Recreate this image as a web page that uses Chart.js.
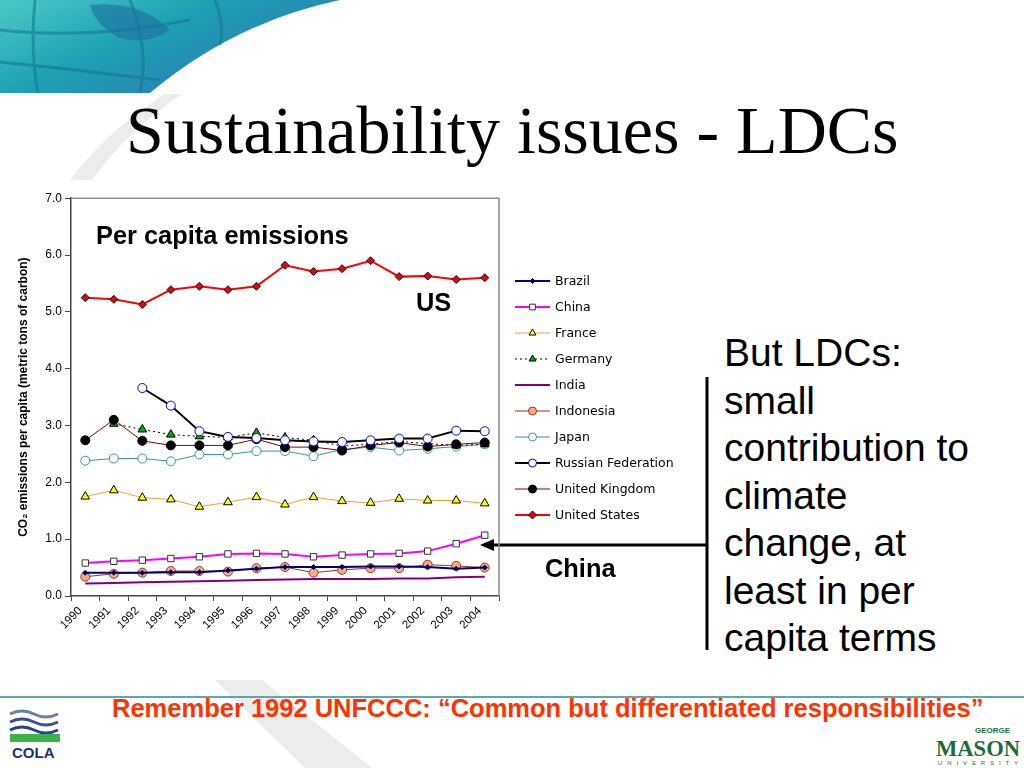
<!DOCTYPE html>
<html>
<head>
<meta charset="utf-8">
<script src="https://cdn.jsdelivr.net/npm/chart.js@4.4.0/dist/chart.umd.min.js"></script>
<style>
  html, body { margin: 0; padding: 0; background: #fff; }
  body { width: 1024px; height: 768px; position: relative; overflow: hidden; font-family: "Liberation Sans", Arial, sans-serif; }
  .abs { position: absolute; }
  #title { left: 126px; top: 91px; font-family: "Liberation Serif", "Times New Roman", serif; font-size: 68px; white-space: nowrap; color: #000; }
  #chartBox { left: 0; top: 188px; width: 700px; height: 462px; }
  .note { font-weight: bold; font-size: 25.4px; color: #000; white-space: nowrap; }
  #side { left: 724px; top: 329px; font-size: 39px; line-height: 47.5px; color: #000; }
  #remember { left: 112px; top: 694px; font-weight: bold; font-size: 25.5px; color: #ff3300; white-space: nowrap; }
</style>
</head>
<body>

<svg class="abs" width="1024" height="768" style="left:0;top:0">
  <defs>
    <linearGradient id="globe" x1="0" y1="0" x2="1" y2="0.6">
      <stop offset="0" stop-color="#4cc8c8"/>
      <stop offset="0.45" stop-color="#1fa2b4"/>
      <stop offset="1" stop-color="#2a78b4"/>
    </linearGradient>
  </defs>
  <path d="M0,0 L340,0 Q235,22 150,93 L0,93 Z" fill="url(#globe)"/>
  <g stroke="#137c8c" stroke-width="3" fill="none" opacity="0.6">
    <path d="M35,0 Q30,50 38,93"/>
    <path d="M0,30 Q90,40 190,20"/>
    <path d="M0,62 Q80,70 160,80"/>
    <path d="M130,0 Q150,50 140,93"/>
    <path d="M215,0 Q225,25 220,45"/>
  </g>
  <path d="M90,5 Q140,0 170,30 Q150,45 120,38 Q95,25 90,5 Z" fill="#1d6fa0" opacity="0.6"/>
  <path d="M165,94 Q110,128 70,180 L92,180 Q128,130 182,94 Z" fill="#ececec"/>
  <path d="M215,680 L262,680 L372,768 L305,768 Z" fill="#ececec"/>
  <line x1="0" y1="697" x2="1024" y2="697" stroke="#5aa9ae" stroke-width="2"/>
  <!-- callout to China -->
  <line x1="707" y1="377" x2="707" y2="650" stroke="#000" stroke-width="3"/>
  <line x1="707" y1="545" x2="492" y2="545" stroke="#000" stroke-width="3"/>
  <path d="M480,545 L494,539 L494,551 Z" fill="#000"/>
  <!-- COLA logo -->
  <g fill="none" stroke-width="3">
    <path d="M10,714 Q22,708 34,714 T58,714" stroke="#6d7fa8"/>
    <path d="M10,722 Q22,716 34,722 T58,722" stroke="#3a4fa0"/>
    <path d="M10,730 Q22,724 34,730 T58,730" stroke="#2a3f98"/>
  </g>
  <rect x="10" y="734" width="50" height="8" fill="#3cb24a"/>
  <text x="12" y="758" font-family="Liberation Sans" font-weight="bold" font-size="15" fill="#1c2f7a">COLA</text>
  <!-- George Mason logo -->
  <text x="975" y="733" font-family="Liberation Sans" font-weight="bold" font-size="8" fill="#1e6b3a">GEORGE</text>
  <text x="936" y="756" font-family="Liberation Serif" font-weight="bold" font-size="24" fill="#1e6b3a" textLength="84" lengthAdjust="spacingAndGlyphs">MASON</text>
  <text x="938" y="765" font-family="Liberation Sans" font-size="6" fill="#1e6b3a" textLength="80">UNIVERSITY</text>
</svg>

<div id="title" class="abs">Sustainability issues - LDCs</div>

<div id="chartBox" class="abs"><canvas id="co2Chart" width="700" height="462"></canvas></div>

<div class="abs note" style="left:96px;top:221px;">Per capita emissions</div>
<div class="abs note" style="left:416px;top:288px;">US</div>
<div class="abs note" style="left:545px;top:554px;">China</div>

<div id="side" class="abs">But LDCs:<br>small<br>contribution to<br>climate<br>change, at<br>least in per<br>capita terms</div>

<div id="remember" class="abs">Remember 1992 UNFCCC: “Common but differentiated responsibilities”</div>

<script>
// Años (categorías)
const years = ['1990', '1991', '1992', '1993', '1994', '1995', '1996', '1997', '1998', '1999', '2000', '2001', '2002', '2003', '2004'];

// Emisiones per cápita (toneladas métricas de carbono)
const brazil    = [0.41, 0.41, 0.41, 0.42, 0.42, 0.45, 0.48, 0.51, 0.51, 0.51, 0.52, 0.52, 0.51, 0.48, 0.50];
const china     = [0.58, 0.61, 0.63, 0.66, 0.69, 0.74, 0.75, 0.74, 0.69, 0.72, 0.74, 0.75, 0.79, 0.92, 1.07];
const france    = [1.75, 1.86, 1.73, 1.70, 1.57, 1.65, 1.74, 1.61, 1.74, 1.67, 1.64, 1.71, 1.68, 1.68, 1.63];
const germany   = [null, 3.03, 2.93, 2.84, 2.81, 2.79, 2.87, 2.79, 2.74, 2.64, 2.67, 2.72, 2.68, 2.65, 2.67];
const india     = [0.22, 0.23, 0.24, 0.25, 0.26, 0.27, 0.28, 0.29, 0.30, 0.30, 0.30, 0.31, 0.31, 0.33, 0.34];
const indonesia = [0.34, 0.39, 0.41, 0.44, 0.44, 0.43, 0.49, 0.51, 0.41, 0.46, 0.49, 0.49, 0.55, 0.53, 0.50];
const japan     = [2.38, 2.42, 2.42, 2.37, 2.49, 2.49, 2.55, 2.55, 2.46, 2.58, 2.62, 2.56, 2.59, 2.63, 2.67];
const russia    = [null, null, 3.66, 3.35, 2.90, 2.80, 2.78, 2.74, 2.72, 2.71, 2.74, 2.77, 2.77, 2.91, 2.90];
const uk        = [2.74, 3.10, 2.73, 2.65, 2.65, 2.65, 2.76, 2.62, 2.62, 2.56, 2.65, 2.70, 2.63, 2.67, 2.70];
const us        = [5.25, 5.22, 5.13, 5.39, 5.45, 5.39, 5.45, 5.82, 5.71, 5.76, 5.90, 5.62, 5.63, 5.57, 5.60];

const yTicks = [0, 1, 2, 3, 4, 5, 6, 7];

function serie(label, data, color, width, style, radius, fill, border, dash) {
    return {
        label: label,
        data: data,
        borderColor: color,
        borderWidth: width,
        borderDash: dash || [],
        pointStyle: style,
        pointRadius: radius,
        pointHoverRadius: radius,
        pointBackgroundColor: fill,
        pointBorderColor: border,
        pointBorderWidth: 1,
        tension: 0,
        fill: false
    };
}

const datasets = [
    serie('United States', us, '#ff0000', 2, 'rectRot', 4, '#c8101a', '#400000'),
    serie('Brazil', brazil, '#000080', 2, 'rectRot', 2.5, '#000060', '#000060'),
    serie('China', china, '#ff00ff', 2, 'rect', 4.5, '#ffffff', '#333333'),
    serie('Indonesia', indonesia, '#993322', 1, 'circle', 4.5, '#f9aa80', '#8b3a20'),
    serie('India', india, '#800080', 2, 'circle', 0, '#800080', '#800080'),
    serie('France', france, '#f0a030', 1, 'triangle', 5, '#ffff00', '#000000'),
    serie('Russian Federation', russia, '#000000', 2, 'circle', 4.5, '#ffffff', '#0000ff'),
    serie('United Kingdom', uk, '#800000', 1, 'circle', 4.5, '#000000', '#000000'),
    serie('Germany', germany, '#000000', 1, 'triangle', 5, '#00b000', '#000000', [2, 3]),
    serie('Japan', japan, '#339999', 1, 'circle', 4.5, '#ffffff', '#339999')
];

const legendOrder = ['Brazil', 'China', 'France', 'Germany', 'India', 'Indonesia', 'Japan', 'Russian Federation', 'United Kingdom', 'United States'];

// marco gris del área de trazado
const plotFrame = {
    id: 'plotFrame',
    beforeDatasetsDraw(chart) {
        const a = chart.chartArea, ctx = chart.ctx;
        ctx.save();
        ctx.strokeStyle = '#8c8c8c';
        ctx.lineWidth = 1.5;
        ctx.beginPath();
        ctx.moveTo(a.left, a.top);
        ctx.lineTo(a.right, a.top);
        ctx.lineTo(a.right, a.bottom);
        ctx.stroke();
        ctx.restore();
    }
};

// leyenda con línea + marcador, como en Excel
const lineLegend = {
    id: 'lineLegend',
    afterDraw(chart) {
        const ctx = chart.ctx;
        const x0 = chart.chartArea.right + 16, x1 = x0 + 35, xm = (x0 + x1) / 2;
        legendOrder.forEach((name, i) => {
            const ds = chart.data.datasets.find(d => d.label === name);
            const y = 93 + i * 26;
            ctx.save();
            ctx.strokeStyle = ds.borderColor;
            ctx.lineWidth = ds.borderWidth;
            ctx.setLineDash(ds.borderDash);
            ctx.beginPath();
            ctx.moveTo(x0, y);
            ctx.lineTo(x1, y);
            ctx.stroke();
            ctx.setLineDash([]);
            if (ds.pointRadius > 0) {
                ctx.fillStyle = ds.pointBackgroundColor;
                ctx.strokeStyle = ds.pointBorderColor;
                ctx.lineWidth = 1;
                Chart.helpers.drawPoint(ctx, { pointStyle: ds.pointStyle, radius: Math.min(ds.pointRadius, 4), borderWidth: 1, rotation: 0 }, xm, y);
            }
            ctx.fillStyle = '#000';
            ctx.font = '12.5px "Comic Sans MS", "DejaVu Sans", sans-serif';
            ctx.textBaseline = 'middle';
            ctx.fillText(name, x1 + 5, y + 1);
            ctx.restore();
        });
    }
};

new Chart(document.getElementById('co2Chart').getContext('2d'), {
    type: 'line',
    data: { labels: years, datasets: datasets },
    options: {
        responsive: false,
        animation: false,
        layout: { padding: { top: 10, right: 201, left: 0, bottom: 0 } },
        plugins: { legend: { display: false }, tooltip: { enabled: false } },
        scales: {
            x: {
                type: 'category',
                offset: true,
                grid: { offset: true, drawOnChartArea: false, tickLength: 5, color: '#444' },
                border: { color: '#444', width: 1.5 },
                ticks: {
                    minRotation: 45, maxRotation: 45, padding: 3, labelOffset: -5, color: '#000',
                    font: { family: 'Liberation Sans', size: 11.5 }
                },
                afterFit: s => { s.height = 54; }
            },
            y: {
                min: 0, max: 7,
                afterBuildTicks: s => { s.ticks = yTicks.map(v => ({ value: v })); },
                grid: { drawOnChartArea: false, tickLength: 6, color: '#444' },
                border: { color: '#444', width: 1.5 },
                ticks: {
                    padding: 3, color: '#000',
                    font: { family: 'Liberation Sans', size: 12 },
                    callback: v => Number(v).toFixed(1)
                },
                title: {
                    display: true,
                    text: 'CO₂ emissions per capita (metric tons of carbon)',
                    color: '#000',
                    font: { family: 'Liberation Sans', size: 12, weight: 'bold' },
                    padding: { top: 16, bottom: 0 }
                },
                afterFit: s => { s.width = 71; }
            }
        }
    },
    plugins: [plotFrame, lineLegend]
});
</script>
</body>
</html>
